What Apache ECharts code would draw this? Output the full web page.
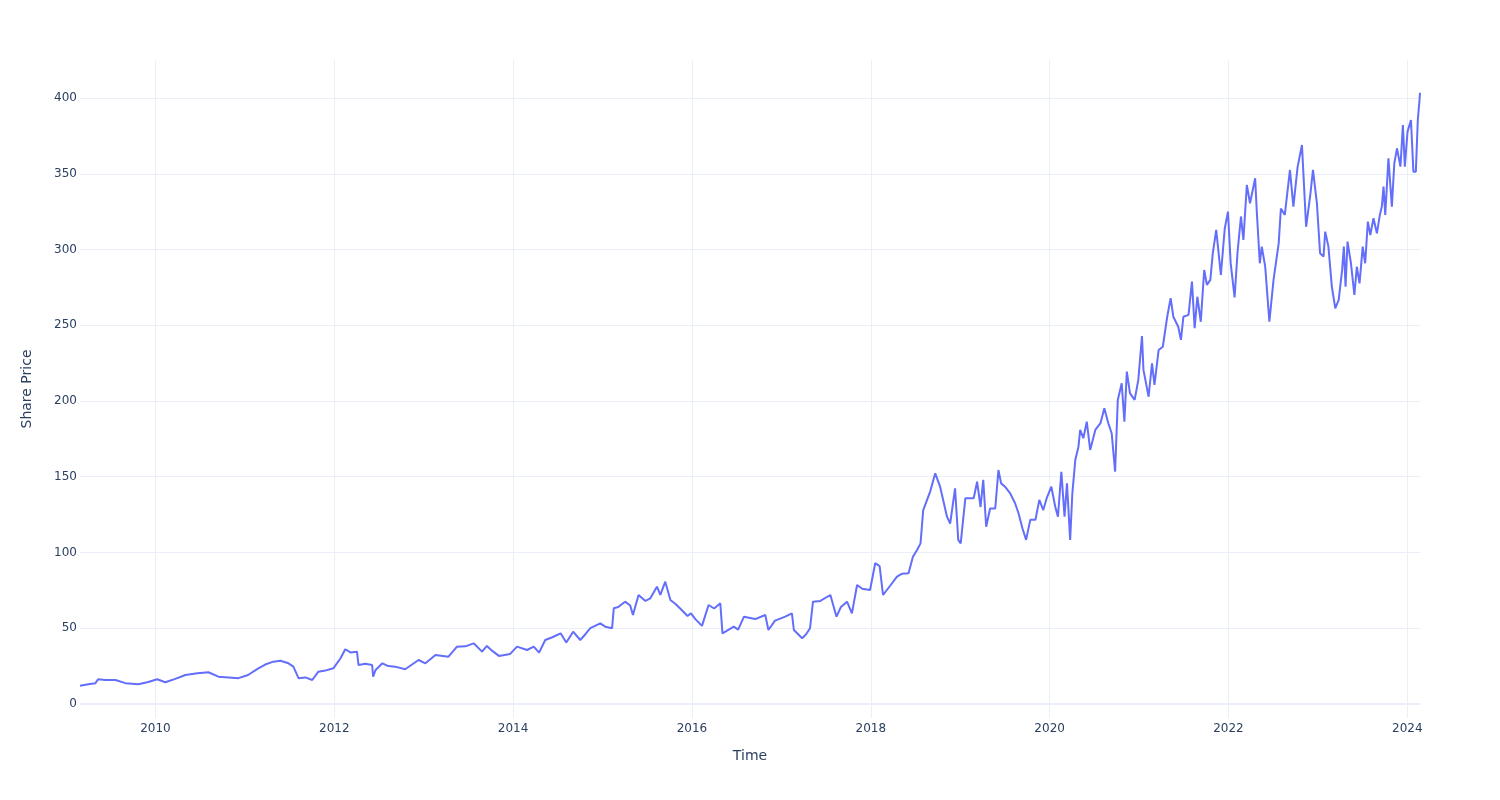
<!DOCTYPE html>
<html>
<head>
<meta charset="utf-8">
<script src="https://cdn.jsdelivr.net/npm/echarts@6/dist/echarts.min.js"></script>
<style>
html,body{margin:0;padding:0;background:#fff;}
#chart{width:1500px;height:800px;}
</style>
</head>
<body>
<div id="chart"></div>
<script>
// ---- data ----
const dates = [
"2009-02-27","2009-04-02","2009-05-01","2009-05-12","2009-06-11","2009-07-22","2009-08-31","2009-10-23","2009-12-03",
"2010-01-08","2010-02-10","2010-03-23","2010-05-03","2010-06-21","2010-08-05","2010-09-15","2010-10-26","2010-12-06",
"2011-01-14","2011-02-25","2011-03-25","2011-04-27","2011-05-26","2011-06-28","2011-07-18","2011-08-08","2011-09-05","2011-10-03","2011-10-28","2011-11-25","2011-12-28",
"2012-01-26","2012-02-15","2012-03-07","2012-04-03","2012-04-09","2012-05-07","2012-06-04","2012-06-08","2012-06-18","2012-07-16","2012-08-09","2012-09-06","2012-10-17","2012-12-11",
"2013-01-08","2013-02-18","2013-04-12","2013-05-17","2013-06-20","2013-07-24","2013-08-27","2013-09-16","2013-10-08","2013-11-04","2013-12-20",
"2014-01-17","2014-02-27","2014-03-26","2014-04-17","2014-05-12","2014-06-10","2014-07-14","2014-08-06","2014-09-03","2014-10-02","2014-10-23","2014-11-12","2014-12-23",
"2015-01-12","2015-02-09","2015-02-16","2015-03-06","2015-04-03","2015-04-24","2015-05-05","2015-05-28","2015-06-25","2015-07-15","2015-08-11","2015-08-25","2015-09-14","2015-10-05","2015-10-26","2015-11-20","2015-12-14","2015-12-28",
"2016-01-15","2016-02-11","2016-03-09","2016-04-01","2016-04-26","2016-05-05","2016-06-20","2016-07-08","2016-08-01","2016-09-16","2016-10-27","2016-11-09","2016-12-06",
"2017-01-17","2017-02-13","2017-02-21","2017-03-27","2017-04-12","2017-04-28","2017-05-10","2017-06-09","2017-07-20","2017-08-14","2017-09-01","2017-09-26","2017-10-16","2017-11-06","2017-11-27","2017-12-29",
"2018-01-19","2018-02-06","2018-02-20","2018-03-21","2018-04-18","2018-05-09","2018-06-04","2018-06-22","2018-07-10","2018-07-23","2018-08-03","2018-08-31","2018-09-21","2018-10-11","2018-11-08","2018-11-21","2018-12-11","2018-12-24",
"2019-01-03","2019-01-22","2019-02-25","2019-03-11","2019-03-25","2019-04-05","2019-04-17","2019-05-03","2019-05-24","2019-06-06","2019-06-17","2019-07-03","2019-07-24","2019-08-13","2019-08-27","2019-09-12","2019-09-27","2019-10-14","2019-11-04","2019-11-20","2019-12-06","2019-12-20",
"2020-01-08","2020-01-24","2020-02-04","2020-02-18","2020-03-02","2020-03-12","2020-03-25","2020-04-03","2020-04-15","2020-04-28","2020-05-05","2020-05-18","2020-06-01","2020-06-15","2020-07-06","2020-07-27","2020-08-12","2020-08-28","2020-09-11","2020-09-25","2020-10-06","2020-10-22","2020-11-02","2020-11-12","2020-11-25","2020-12-14","2020-12-29",
"2021-01-13","2021-01-19","2021-02-09","2021-02-23","2021-03-05","2021-03-22","2021-04-08","2021-04-26","2021-05-10","2021-05-21","2021-06-10","2021-06-21","2021-07-01","2021-07-22","2021-08-05","2021-08-16","2021-08-27","2021-09-10","2021-09-24","2021-10-05","2021-10-19","2021-10-29","2021-11-12","2021-12-01","2021-12-17","2021-12-30",
"2022-01-10","2022-01-26","2022-02-07","2022-02-21","2022-03-03","2022-03-17","2022-03-23","2022-03-30","2022-04-20","2022-04-27","2022-05-09","2022-05-17","2022-05-31","2022-06-17","2022-07-04","2022-07-25","2022-08-03","2022-08-19","2022-09-09","2022-09-23","2022-10-10","2022-10-28","2022-11-14","2022-12-01","2022-12-12","2022-12-28",
"2023-01-10","2023-01-24","2023-01-31","2023-02-13","2023-02-27","2023-03-13","2023-03-27","2023-04-10","2023-04-17","2023-04-24","2023-05-02","2023-05-16","2023-05-30","2023-06-09","2023-06-20","2023-07-03","2023-07-13","2023-07-24","2023-08-03","2023-08-16","2023-08-30","2023-09-11","2023-09-19","2023-09-26","2023-10-03","2023-10-16","2023-10-30","2023-11-09","2023-11-20","2023-12-04","2023-12-14","2023-12-22",
"2024-01-02","2024-01-16","2024-01-26","2024-02-05","2024-02-13","2024-02-20","2024-02-22"
];
const prices = [
12.0,13.0,13.7,16.3,15.8,15.8,13.7,13.0,14.5,
16.3,14.3,16.5,19.1,20.2,20.9,18.0,17.5,17.0,
19.1,23.5,26.0,27.9,28.5,26.8,24.6,17.0,17.5,15.8,21.3,22.0,23.5,
30.0,36.1,34.0,34.5,25.7,26.5,25.7,18.0,22.4,26.8,25.0,24.6,22.9,29.0,
26.8,32.3,31.2,37.8,38.0,40.0,34.5,38.3,35.0,31.7,33.0,
37.8,35.6,37.8,33.9,42.2,44.0,46.6,40.5,47.7,42.2,46.0,50.0,53.2,
51.0,50.0,63.2,64.0,67.5,65.0,58.7,71.9,68.0,69.7,77.4,72.0,80.7,68.6,66.0,62.0,58.0,59.8,
56.0,51.5,65.3,63.0,66.4,46.6,51.0,49.0,57.6,56.0,58.7,48.8,55.0,
57.6,59.8,48.8,43.4,46.0,50.0,67.5,68.0,71.9,57.6,64.0,67.5,59.8,78.5,76.0,75.2,
92.9,91.0,71.9,78.0,84.0,86.0,86.3,97.2,102.0,106.0,128.0,140.0,152.2,143.4,123.6,119.0,142.3,108.3,
106.0,135.8,135.8,146.7,130.0,147.9,117.0,129.0,129.0,154.4,145.6,143.4,139.0,132.5,125.9,116.0,108.3,121.5,121.5,134.7,128.0,135.8,
143.4,130.2,123.6,153.3,123.6,145.6,108.3,139.0,161.0,169.8,180.9,175.4,186.3,167.7,180.9,185.3,195.2,185.3,178.7,153.3,200.7,211.7,186.3,219.4,205.0,200.7,213.9,
242.9,220.5,202.8,224.9,210.6,233.7,235.8,255.6,267.8,255.6,249.0,240.3,255.6,256.8,278.8,248.0,268.8,252.3,286.5,276.6,279.9,297.5,312.9,283.2,314.0,325.0,
291.0,268.4,298.0,321.8,306.3,342.6,343.7,330.5,347.0,323.9,290.9,301.9,288.7,252.4,279.9,304.0,327.1,322.8,352.5,328.3,354.2,369.0,315.0,336.0,352.5,330.5,
297.5,295.3,311.8,301.9,275.5,261.2,266.7,286.5,301.9,275.5,305.2,290.9,270.0,288.6,277.6,301.9,290.9,318.4,309.6,320.6,310.7,322.8,328.3,341.5,322.8,360.2,328.3,356.9,366.8,354.7,382.2,354.7,
377.8,385.5,351.4,351.4,385.5,398.7,403.5
];
const xTickYears = [2010, 2012, 2014, 2016, 2018, 2020, 2022, 2024];
const yTickValues = [0, 50, 100, 150, 200, 250, 300, 350, 400];

// ---- helpers ----
function toDecimalYear(s) {
  const p = s.split('-').map(Number);
  const t = Date.UTC(p[0], p[1] - 1, p[2]);
  const a = Date.UTC(p[0], 0, 1), b = Date.UTC(p[0] + 1, 0, 1);
  return p[0] + (t - a) / (b - a);
}
const seriesData = dates.map((d, i) => [toDecimalYear(d), prices[i]]);

const GRID = '#EBF0F8';
const TEXT = '#2a3f5f';
const FONT = '"DejaVu Sans", Verdana, Arial, sans-serif';

const gridLines = []
  .concat(xTickYears.map(v => ({ xAxis: v, lineStyle: { color: GRID, width: 1, type: 'solid' } })))
  .concat(yTickValues.map(v => ({ yAxis: v, lineStyle: { color: GRID, width: v === 0 ? 2 : 1, type: 'solid' } })));

const chart = echarts.init(document.getElementById('chart'), null, { renderer: 'canvas' });
chart.setOption({
  animation: false,
  backgroundColor: '#ffffff',
  grid: { left: 80, right: 80, top: 60, bottom: 82, containLabel: false },
  xAxis: {
    type: 'value',
    min: v => v.min,
    max: v => v.max,
    splitNumber: 7,
    name: 'Time',
    nameLocation: 'middle',
    nameGap: 31,
    nameTextStyle: { color: TEXT, fontSize: 14, fontFamily: FONT },
    axisLine: { show: false },
    axisTick: { show: false },
    splitLine: { show: false },
    axisLabel: {
      color: TEXT, fontSize: 12, fontFamily: FONT, margin: 5,
      formatter: v => (xTickYears.indexOf(Math.round(v)) >= 0 && Math.abs(v - Math.round(v)) < 1e-6) ? String(Math.round(v)) : ''
    }
  },
  yAxis: {
    type: 'value',
    min: -9.3,
    max: 425.1,
    splitNumber: 9,
    name: 'Share Price',
    nameLocation: 'middle',
    nameGap: 46,
    nameTextStyle: { color: TEXT, fontSize: 14, fontFamily: FONT },
    axisLine: { show: false },
    axisTick: { show: false },
    splitLine: { show: false },
    axisLabel: {
      color: TEXT, fontSize: 12, fontFamily: FONT, margin: 3,
      formatter: v => (yTickValues.indexOf(Math.round(v)) >= 0 && Math.abs(v - Math.round(v)) < 1e-6) ? String(Math.round(v)) : ''
    }
  },
  series: [{
    type: 'line',
    data: seriesData,
    showSymbol: false,
    symbol: 'none',
    sampling: 'none',
    z: 3,
    lineStyle: { color: '#636efa', width: 2 },
    itemStyle: { color: '#636efa' },
    emphasis: { disabled: true },
    markLine: {
      silent: true,
      z: 1,
      symbol: ['none', 'none'],
      label: { show: false },
      emphasis: { disabled: true },
      animation: false,
      data: gridLines
    }
  }]
});
</script>
</body>
</html>
